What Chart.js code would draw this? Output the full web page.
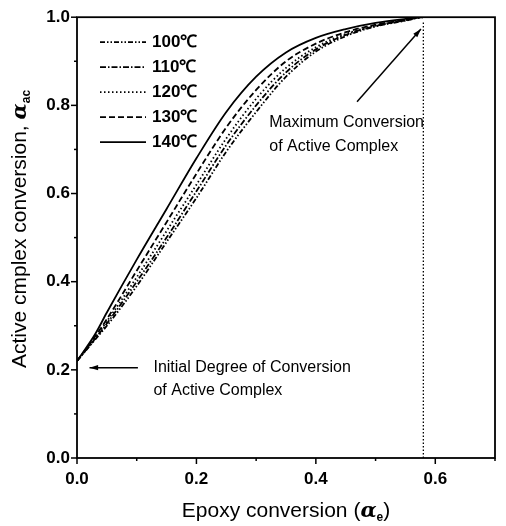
<!DOCTYPE html>
<html>
<head>
<meta charset="utf-8">
<script src="https://cdn.jsdelivr.net/npm/chart.js@4.4.1/dist/chart.umd.min.js"></script>
<style>
  html, body { margin: 0; padding: 0; background: #fff; }
  #wrap { width: 506px; height: 526px; }
</style>
</head>
<body>
<div id="wrap"><canvas id="conversionChart" width="506" height="526"></canvas></div>
<script>
// Data
const epoxyConversion = [0, 0.03, 0.05, 0.1, 0.15, 0.2, 0.25, 0.3, 0.35, 0.4, 0.45, 0.5, 0.55, 0.58, 0.7];
const acConv100 = [0.22, 0.268, 0.30, 0.39, 0.49, 0.59, 0.695, 0.785, 0.865, 0.922, 0.957, 0.979, 0.992, 1.0, 1.0];
const acConv110 = [0.22, 0.270, 0.305, 0.40, 0.50, 0.605, 0.71, 0.80, 0.875, 0.927, 0.960, 0.980, 0.993, 1.0, 1.0];
const acConv120 = [0.22, 0.272, 0.31, 0.41, 0.515, 0.62, 0.725, 0.815, 0.885, 0.932, 0.962, 0.981, 0.993, 1.0, 1.0];
const acConv130 = [0.22, 0.275, 0.315, 0.425, 0.535, 0.645, 0.75, 0.835, 0.90, 0.940, 0.966, 0.983, 0.994, 1.0, 1.0];
const acConv140 = [0.22, 0.28, 0.33, 0.45, 0.565, 0.68, 0.785, 0.865, 0.92, 0.953, 0.973, 0.987, 0.996, 1.0, 1.0];
const seriesLabels = ['100\u2103', '110\u2103', '120\u2103', '130\u2103', '140\u2103'];
const maxConvX = [0.58, 0.58];
const maxConvY = [0, 0.99];
const xTickValues = [0, 0.1, 0.2, 0.3, 0.4, 0.5, 0.6, 0.7];
const yTickValues = [0, 0.1, 0.2, 0.3, 0.4, 0.5, 0.6, 0.7, 0.8, 0.9, 1.0];

// annotation anchors in data units
const maxNote = { text: ['Maximum Conversion', 'of Active Complex'], x: 0.322, y: [0.761, 0.707],
                  arrowFrom: [0.469, 0.808], arrowTo: [0.576, 0.973] };
const initNote = { text: ['Initial Degree of Conversion', 'of Active Complex'], x: 0.128, y: [0.205, 0.153],
                   arrowFrom: [0.102, 0.205], arrowTo: [0.021, 0.205] };

const FONT = "'Liberation Sans', Arial, sans-serif";
const dashes = [[5, 2, 1.5, 2, 1.5, 2], [6, 2, 1.5, 2], [1.5, 2.5], [6, 3], []];

function toPoints(xs, ys) {
    return xs.map((x, i) => ({ x: x, y: ys[i] }));
}

const curveSets = [acConv100, acConv110, acConv120, acConv130, acConv140].map((ys, i) => ({
    label: seriesLabels[i],
    data: toPoints(epoxyConversion, ys),
    borderColor: '#000',
    borderWidth: 1.8,
    borderDash: dashes[i],
    pointRadius: 0,
    cubicInterpolationMode: 'monotone',
    fill: false
}));

curveSets.push({
    label: 'max',
    data: toPoints(maxConvX, maxConvY),
    borderColor: '#000',
    borderWidth: 1.3,
    borderDash: [1.5, 2],
    pointRadius: 0,
    fill: false
});

function arrow(ctx, x1, y1, x2, y2) {
    const ang = Math.atan2(y2 - y1, x2 - x1);
    ctx.beginPath();
    ctx.moveTo(x1, y1);
    ctx.lineTo(x2, y2);
    ctx.stroke();
    ctx.beginPath();
    ctx.moveTo(x2, y2);
    ctx.lineTo(x2 - 9 * Math.cos(ang - 0.3), y2 - 9 * Math.sin(ang - 0.3));
    ctx.lineTo(x2 - 9 * Math.cos(ang + 0.3), y2 - 9 * Math.sin(ang + 0.3));
    ctx.closePath();
    ctx.fill();
}

// Frame, minor/major ticks, legend, notes and axis titles
const decorPlugin = {
    id: 'decor',
    afterDatasetsDraw(chart) {
        const ctx = chart.ctx;
        const area = chart.chartArea;
        const xs = chart.scales.x;
        const ys = chart.scales.y;
        ctx.save();
        ctx.strokeStyle = '#000';
        ctx.fillStyle = '#000';
        ctx.setLineDash([]);

        // frame
        ctx.lineWidth = 1.8;
        ctx.strokeRect(area.left, area.top, area.right - area.left, area.bottom - area.top);

        // ticks
        ctx.lineWidth = 1.5;
        xTickValues.forEach((v, i) => {
            const px = xs.getPixelForValue(v);
            const len = i % 2 === 0 ? 6 : 3;
            ctx.beginPath();
            ctx.moveTo(px, area.bottom);
            ctx.lineTo(px, area.bottom + len);
            ctx.stroke();
        });
        yTickValues.forEach((v, i) => {
            const py = ys.getPixelForValue(v);
            const len = i % 2 === 0 ? 6 : 3;
            ctx.beginPath();
            ctx.moveTo(area.left, py);
            ctx.lineTo(area.left - len, py);
            ctx.stroke();
        });

        // legend
        ctx.font = 'bold 17px ' + FONT;
        ctx.textBaseline = 'middle';
        ctx.textAlign = 'left';
        seriesLabels.forEach((lab, i) => {
            const y = area.top + 25 + i * 25;
            const ds = chart.data.datasets[i];
            ctx.lineWidth = 1.8;
            ctx.setLineDash(ds.borderDash);
            ctx.beginPath();
            ctx.moveTo(area.left + 23, y);
            ctx.lineTo(area.left + 69, y);
            ctx.stroke();
            ctx.setLineDash([]);
            ctx.fillText(lab, area.left + 75, y);
        });

        // annotations
        ctx.font = '16px ' + FONT;
        [maxNote, initNote].forEach(note => {
            note.text.forEach((t, i) => {
                ctx.fillText(t, xs.getPixelForValue(note.x), ys.getPixelForValue(note.y[i]));
            });
            ctx.lineWidth = 1.5;
            arrow(ctx,
                xs.getPixelForValue(note.arrowFrom[0]), ys.getPixelForValue(note.arrowFrom[1]),
                xs.getPixelForValue(note.arrowTo[0]), ys.getPixelForValue(note.arrowTo[1]));
        });

        // x title
        ctx.textBaseline = 'alphabetic';
        const titleFont = '21px ' + FONT;
        const greekFont = 'italic bold 21px "DejaVu Serif", "Liberation Serif", serif';
        const subFont = 'bold 12px ' + FONT;
        const xParts = [['Epoxy conversion (', titleFont, 0], ['\u03b1', greekFont, 0], ['e', subFont, 4], [')', titleFont, 0]];
        let total = 0;
        xParts.forEach(p => { ctx.font = p[1]; total += ctx.measureText(p[0]).width; });
        let cx = (area.left + area.right) / 2 - total / 2;
        xParts.forEach(p => {
            ctx.font = p[1];
            ctx.fillText(p[0], cx, 517 + p[2]);
            cx += ctx.measureText(p[0]).width;
        });

        // y title
        ctx.translate(26, 229);
        ctx.rotate(-Math.PI / 2);
        const yParts = [['Active cmplex conversion, ', titleFont, 0], ['\u03b1', greekFont, 0], ['ac', subFont, 4]];
        total = 0;
        yParts.forEach(p => { ctx.font = p[1]; total += ctx.measureText(p[0]).width; });
        cx = -total / 2;
        yParts.forEach(p => {
            ctx.font = p[1];
            ctx.fillText(p[0], cx, p[2]);
            cx += ctx.measureText(p[0]).width;
        });
        ctx.restore();
    }
};

new Chart(document.getElementById('conversionChart').getContext('2d'), {
    type: 'line',
    data: { datasets: curveSets },
    options: {
        responsive: false,
        animation: false,
        layout: { padding: { top: 15, right: 3, left: 0, bottom: 0 } },
        plugins: { legend: { display: false }, tooltip: { enabled: false } },
        scales: {
            x: {
                type: 'linear',
                min: 0,
                max: 0.7,
                grid: { display: false, drawTicks: false },
                border: { display: false },
                ticks: {
                    stepSize: 0.1,
                    padding: 11,
                    color: '#000',
                    font: { family: FONT, size: 17, weight: 'bold' },
                    callback: v => (Math.round(v * 10) % 2 === 0 && v < 0.65 ? v.toFixed(1) : '')
                },
                afterFit: s => { s.height = 68; }
            },
            y: {
                min: 0,
                max: 1,
                grid: { display: false, drawTicks: false },
                border: { display: false },
                ticks: {
                    stepSize: 0.1,
                    padding: 7,
                    color: '#000',
                    font: { family: FONT, size: 17, weight: 'bold' },
                    callback: v => (Math.round(v * 10) % 2 === 0 ? v.toFixed(1) : '')
                },
                afterFit: s => { s.width = 77; }
            }
        }
    },
    plugins: [decorPlugin]
});
</script>
</body>
</html>
